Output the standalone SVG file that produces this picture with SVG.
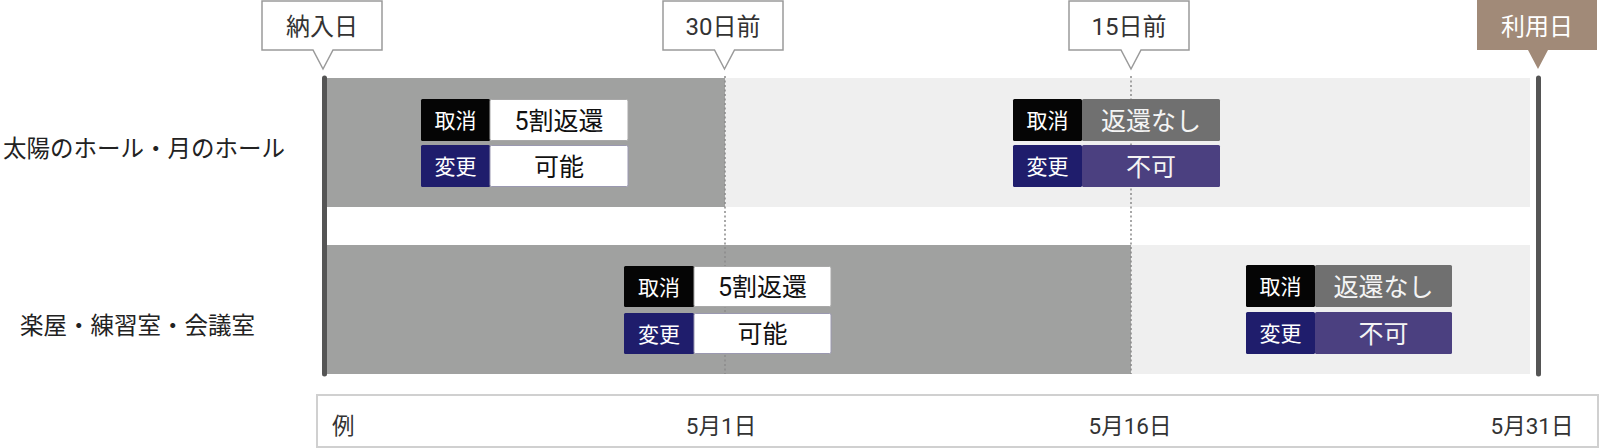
<svg xmlns="http://www.w3.org/2000/svg" width="1600" height="448" viewBox="0 0 1600 448">
<style>
text{font-family:"Roboto","Noto Sans CJK JP",sans-serif}
.co{fill:#fff;stroke:#9a9a9a;stroke-width:1.5}
.cot{font-size:24px;fill:#333;text-anchor:middle}
.dark{fill:#a0a1a0}
.light{fill:#efefef}
.bar{stroke:#555;stroke-width:5;stroke-linecap:round}
.dot{stroke:#8a8a8a;stroke-width:1.5;stroke-dasharray:2 2.5}
.lab{font-size:21px;fill:#fff;text-anchor:middle}
.val{font-size:25px;text-anchor:middle}
.cx{fill:#050505}
.hk{fill:#1f1d6c}
.wv{fill:#fff;stroke:#a8a8a8;stroke-width:1}
.wv2{fill:#fff;stroke:#9a98b0;stroke-width:1}
.nv{fill:#707070}
.pv{fill:#4b4080}
.rl{font-size:23.5px;fill:#222}
.ax{font-size:22.5px;fill:#333}
</style>

<g id="bands">
<rect class="dark" x="327" y="78" width="398" height="129"/>
<rect class="light" x="725" y="78" width="805" height="129"/>
<rect class="dark" x="327" y="245" width="804" height="129"/>
<rect class="light" x="1131" y="245" width="399" height="129"/>
</g>

<g id="connectors">
<line class="dot" x1="725" y1="76" x2="725" y2="374"/>
<line class="dot" x1="1131" y1="76" x2="1131" y2="374"/>
<line class="bar" x1="324.5" y1="78" x2="324.5" y2="374"/>
<line class="bar" x1="1538.5" y1="78" x2="1538.5" y2="374"/>
</g>

<g id="callout-nonyubi">
<path class="co" d="M262,1 H382 V50 H333 L323,69 L313,50 H262 Z"/>
<text class="cot" x="322" y="34.5">納入日</text>
</g>
<g id="callout-30">
<path class="co" d="M663,1 H783 V50 H734.5 L724.5,69 L714.5,50 H663 Z"/>
<text class="cot" x="723" y="34.5">30日前</text>
</g>
<g id="callout-15">
<path class="co" d="M1069,1 H1189 V50 H1141 L1131,69 L1121,50 H1069 Z"/>
<text class="cot" x="1129" y="34.5">15日前</text>
</g>
<g id="callout-riyobi">
<path fill="#a18a78" d="M1477,0 H1597 V50 H1548 L1538,69 L1528,50 H1477 Z"/>
<text class="cot" x="1537" y="34.5" style="fill:#fff">利用日</text>
</g>

<g id="label-hall">
<text class="rl" x="3" y="156.5">太陽のホール・月のホール</text>
</g>
<g id="label-rooms">
<text class="rl" x="20" y="334">楽屋・練習室・会議室</text>
</g>

<g id="box-hall-before30">
<rect class="cx" x="421" y="99" width="69" height="42" rx="1.5"/>
<rect class="wv" x="490" y="99.5" width="138" height="41" rx="1.5"/>
<text class="lab" x="455.5" y="128">取消</text>
<text class="val" x="559" y="129.5" fill="#111">5割返還</text>
<rect class="hk" x="421" y="145" width="69" height="42" rx="1.5"/>
<rect class="wv2" x="490" y="145.5" width="138" height="41" rx="1.5"/>
<text class="lab" x="455.5" y="174">変更</text>
<text class="val" x="559" y="175.5" fill="#111">可能</text>
</g>

<g id="box-hall-after15">
<rect class="cx" x="1013" y="99" width="69" height="42" rx="1.5"/>
<rect class="nv" x="1082" y="99" width="138" height="42" rx="1.5"/>
<text class="lab" x="1047.5" y="128">取消</text>
<text class="val" x="1151" y="129.5" fill="#f4f4f4">返還なし</text>
<rect class="hk" x="1013" y="145" width="69" height="42" rx="1.5"/>
<rect class="pv" x="1082" y="145" width="138" height="42" rx="1.5"/>
<text class="lab" x="1047.5" y="174">変更</text>
<text class="val" x="1151" y="175.5" fill="#f4f4f4">不可</text>
</g>

<g id="box-rooms-before15">
<rect class="cx" x="624" y="266" width="70" height="41" rx="1.5"/>
<rect class="wv" x="694" y="266.5" width="137" height="40" rx="1.5"/>
<text class="lab" x="659" y="294.5">取消</text>
<text class="val" x="762.5" y="296" fill="#111">5割返還</text>
<rect class="hk" x="624" y="313" width="70" height="41" rx="1.5"/>
<rect class="wv2" x="694" y="313.5" width="137" height="40" rx="1.5"/>
<text class="lab" x="659" y="341.5">変更</text>
<text class="val" x="762.5" y="343" fill="#111">可能</text>
</g>

<g id="box-rooms-after15">
<rect class="cx" x="1246" y="265" width="69" height="42" rx="1.5"/>
<rect class="nv" x="1315" y="265" width="137" height="42" rx="1.5"/>
<text class="lab" x="1280.5" y="294">取消</text>
<text class="val" x="1383.5" y="295.5" fill="#f4f4f4">返還なし</text>
<rect class="hk" x="1246" y="312" width="69" height="42" rx="1.5"/>
<rect class="pv" x="1315" y="312" width="137" height="42" rx="1.5"/>
<text class="lab" x="1280.5" y="341">変更</text>
<text class="val" x="1383.5" y="342.5" fill="#f4f4f4">不可</text>
</g>

<g id="axis">
<rect x="317" y="395" width="1281" height="52" fill="#fff" stroke="#d0d0d0" stroke-width="2"/>
<text class="ax" x="332" y="433.5">例</text>
<text class="ax" x="721" y="433.5" text-anchor="middle">5月1日</text>
<text class="ax" x="1130" y="433.5" text-anchor="middle">5月16日</text>
<text class="ax" x="1532" y="433.5" text-anchor="middle">5月31日</text>
</g>
</svg>
